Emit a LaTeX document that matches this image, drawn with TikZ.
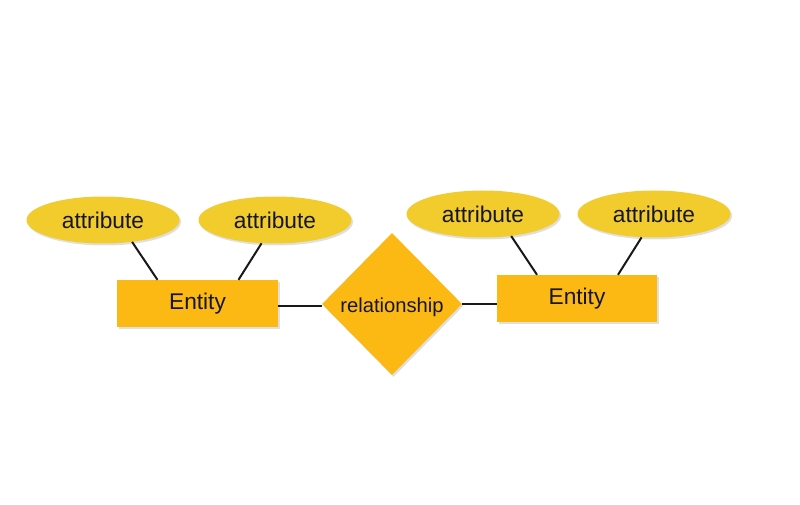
\documentclass[tikz,border=0pt]{standalone}
\usepackage{fontspec}
\setmainfont{Liberation Sans}
\usetikzlibrary{shapes.geometric,shadows}
\definecolor{attrfill}{HTML}{F1CC2C}
\definecolor{entfill}{HTML}{FDB913}
\definecolor{txt}{HTML}{15152E}
\tikzset{
  x=1pt,y=1pt,
  shd/.style={drop shadow={opacity=0.25,shadow xshift=1.5pt,shadow yshift=-2pt}},
  attr/.style={ellipse,fill=attrfill,inner sep=0pt,minimum width=153pt,minimum height=47pt,
    text=txt,font=\fontsize{22.7}{24}\selectfont,shd},
  entity/.style={rectangle,fill=entfill,inner sep=0pt,minimum width=161pt,minimum height=47pt,
    text=txt,font=\fontsize{22.7}{24}\selectfont,shd},
  rel/.style={diamond,fill=entfill,inner sep=0pt,minimum width=140pt,minimum height=142pt,shd},
  conn/.style={line width=2pt,draw=black!90}
}
\begin{document}
\begin{tikzpicture}
\useasboundingbox (0,0) rectangle (800,504);
\node[attr] (a1) at (103,284) {attribute};
\node[attr] (a2) at (275,284) {attribute};
\node[attr] (a3) at (483,290) {attribute};
\node[attr] (a4) at (654,290) {attribute};
\node[entity] (e1) at (197.5,200.5) {Entity};
\node[entity,minimum width=160pt] (e2) at (577,205.5) {Entity};
\node[rel,label={[text=txt,font=\fontsize{20.2}{22}\selectfont,yshift=-3pt]center:relationship}] (r) at (392,200) {};
\draw[conn] (a1.-37) -- ([xshift=-40pt]e1.north);
\draw[conn] (a2.-120) -- ([xshift=41pt]e1.north);
\draw[conn] (a3.-38) -- ([xshift=-40pt]e2.north);
\draw[conn] (a4.-118) -- ([xshift=41pt]e2.north);
\draw[conn] ([yshift=-2pt]e1.east) -- ([yshift=-2pt]e1.east -| r.west);
\draw[conn] (r.east) -- (r.east -| e2.west);
\end{tikzpicture}
\end{document}
